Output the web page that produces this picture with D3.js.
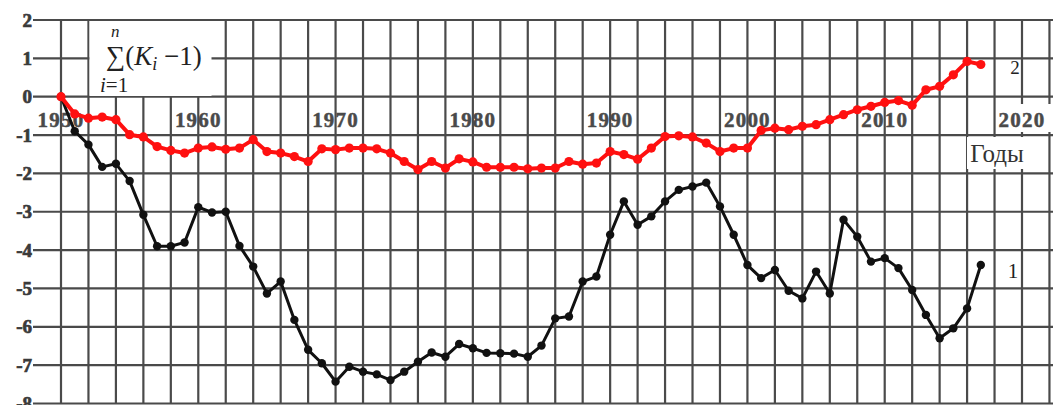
<!DOCTYPE html>
<html>
<head>
<meta charset="utf-8">
<script src="https://cdn.jsdelivr.net/npm/d3@7"></script>
<style>
  html, body { margin: 0; padding: 0; background: #fff; }
  svg { display: block; }
  text { font-family: "Liberation Serif", "Times New Roman", serif; }
</style>
</head>
<body>
<svg id="chart" width="1053" height="405"></svg>
<script>
// Cumulative sum of (K_i - 1) by year, two series
const years = d3.range(1950, 2018);

const series1 = [
  0, -0.9, -1.25, -1.83, -1.75, -2.2, -3.08, -3.9, -3.9, -3.8,
  -2.88, -3.02, -3.0, -3.89, -4.43, -5.13, -4.82, -5.82, -6.6, -6.95,
  -7.43, -7.04, -7.17, -7.24, -7.39, -7.17, -6.91, -6.67, -6.78, -6.45,
  -6.56, -6.68, -6.69, -6.7, -6.78, -6.49, -5.78, -5.73, -4.82, -4.69,
  -3.6, -2.73, -3.34, -3.12, -2.73, -2.43, -2.34, -2.24, -2.86, -3.6,
  -4.39, -4.73, -4.52, -5.06, -5.26, -4.56, -5.13, -3.21, -3.65, -4.3,
  -4.21, -4.47, -5.04, -5.69, -6.3, -6.04, -5.52, -4.39
];

const series2 = [
  0, -0.45, -0.56, -0.53, -0.6, -0.99, -1.05, -1.3, -1.4, -1.47,
  -1.34, -1.31, -1.37, -1.34, -1.12, -1.43, -1.47, -1.56, -1.69, -1.36,
  -1.38, -1.34, -1.34, -1.36, -1.47, -1.69, -1.9, -1.69, -1.86, -1.62,
  -1.7, -1.84, -1.84, -1.84, -1.88, -1.86, -1.86, -1.69, -1.76, -1.73,
  -1.43, -1.51, -1.63, -1.34, -1.04, -1.02, -1.05, -1.21, -1.43, -1.34,
  -1.34, -0.88, -0.82, -0.86, -0.77, -0.73, -0.6, -0.47, -0.34, -0.25,
  -0.15, -0.1, -0.22, 0.18, 0.27, 0.57, 0.92, 0.84
];

const xTickYears = [1950, 1960, 1970, 1980, 1990, 2000, 2010, 2020];
const yTicks = [2, 1, 0, -1, -2, -3, -4, -5, -6, -7, -8];
const gridYears = d3.range(1950, 2023, 2);

const svg = d3.select("#chart");

const x = d3.scaleLinear().domain([1950, 2020]).range([61, 1022]);
const y = d3.scaleLinear().domain([-8, 2]).range([403.5, 20]);

const gridColor = "#4a4a4a";

// vertical grid every two years
svg.append("g")
  .selectAll("line")
  .data(gridYears)
  .join("line")
  .attr("x1", d => x(d)).attr("x2", d => x(d))
  .attr("y1", y(2)).attr("y2", y(-8))
  .attr("stroke", gridColor)
  .attr("stroke-width", 2.2);

// horizontal grid, one per unit
svg.append("g")
  .selectAll("line")
  .data(yTicks)
  .join("line")
  .attr("x1", 33).attr("x2", 1053)
  .attr("y1", d => y(d)).attr("y2", d => y(d))
  .attr("stroke", gridColor)
  .attr("stroke-width", 2.2);

// y-axis labels (heavy serif digits)
svg.append("g")
  .selectAll("text")
  .data(yTicks)
  .join("text")
  .attr("x", 32)
  .attr("y", d => y(d))
  .attr("dy", "0.35em")
  .attr("text-anchor", "end")
  .attr("font-size", 19)
  .attr("font-weight", "bold")
  .attr("fill", "#3a3a3a")
  .attr("stroke", "#3a3a3a")
  .attr("stroke-width", 0.7)
  .text(d => d);

// formula box in the top-left corner
const fbox = svg.append("g");
fbox.append("rect")
  .attr("x", 89.5).attr("y", 21).attr("width", 122).attr("height", 75)
  .attr("fill", "#fff");
fbox.append("text")
  .attr("x", 111).attr("y", 37)
  .attr("font-size", 17).attr("font-style", "italic")
  .attr("fill", "#222")
  .text("n");
const ftxt = fbox.append("text")
  .attr("x", 106).attr("y", 65)
  .attr("font-size", 27).attr("fill", "#222");
ftxt.append("tspan").text("\u2211(");
ftxt.append("tspan").attr("font-style", "italic").text("K");
ftxt.append("tspan").attr("font-style", "italic").attr("font-size", 18).attr("dy", 5).text("i");
ftxt.append("tspan").attr("dy", -5).text(" \u22121)");
fbox.append("text")
  .attr("x", 100).attr("y", 92)
  .attr("font-size", 21).attr("fill", "#222")
  .html("<tspan font-style='italic'>i</tspan>=1");

// x-axis year labels
const xl = svg.append("g");
xl.append("rect")
  .attr("x", 996).attr("y", 104).attr("width", 57).attr("height", 28)
  .attr("fill", "#fff");
xl.selectAll("text")
  .data(xTickYears)
  .join("text")
  .attr("x", d => x(d))
  .attr("y", 127)
  .attr("text-anchor", "middle")
  .attr("font-size", 21)
  .attr("letter-spacing", 1.2)
  .attr("font-weight", "bold")
  .attr("fill", "#4a4a4a")
  .attr("stroke", "#4a4a4a")
  .attr("stroke-width", 0.5)
  .text(d => d);

// axis title
svg.append("rect")
  .attr("x", 967).attr("y", 137).attr("width", 62).attr("height", 32)
  .attr("fill", "#fff");
svg.append("text")
  .attr("x", 997).attr("y", 162)
  .attr("text-anchor", "middle")
  .attr("font-size", 25)
  .attr("fill", "#333")
  .text("Годы");

// series lines and markers
const line = d3.line().x((d, i) => x(years[i])).y(d => y(d));

function drawSeries(values, color, width, r) {
  const g = svg.append("g");
  g.append("path")
    .datum(values)
    .attr("d", line)
    .attr("fill", "none")
    .attr("stroke", color)
    .attr("stroke-width", width)
    .attr("stroke-linejoin", "round");
  g.selectAll("circle")
    .data(values)
    .join("circle")
    .attr("cx", (d, i) => x(years[i]))
    .attr("cy", d => y(d))
    .attr("r", r)
    .attr("fill", color);
}

drawSeries(series1, "#111", 3, 4.2);
drawSeries(series2, "#ff1010", 4, 4.6);

// series labels
svg.append("text")
  .attr("x", 1015).attr("y", 74)
  .attr("text-anchor", "middle")
  .attr("font-size", 19)
  .attr("fill", "#222")
  .text("2");
svg.append("text")
  .attr("x", 1013).attr("y", 278)
  .attr("text-anchor", "middle")
  .attr("font-size", 21)
  .attr("fill", "#222")
  .text("1");
</script>
</body>
</html>
